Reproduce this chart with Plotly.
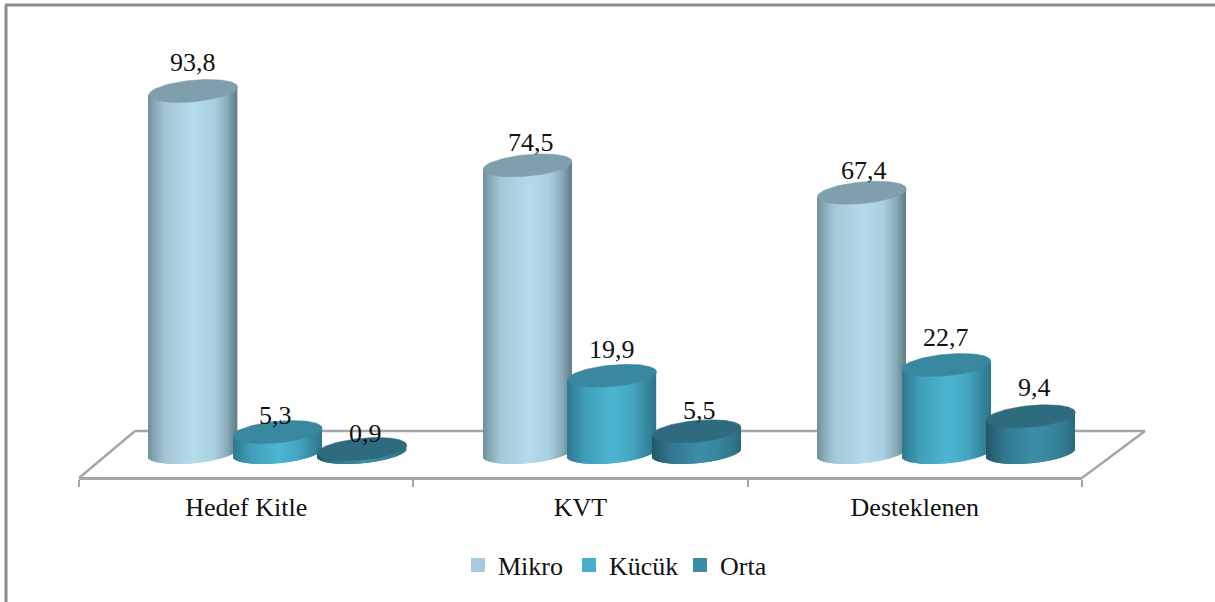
import numpy as np
import plotly.graph_objects as go

# --- data ---
categories = ["Hedef Kitle", "KVT", "Desteklenen"]
series_names = ["Mikro", "Kücük", "Orta"]
mikro = [93.8, 74.5, 67.4]
kucuk = [5.3, 19.9, 22.7]
orta = [0.9, 5.5, 9.4]
all_values = [mikro, kucuk, orta]

# --- page / scale setup (pixels of the 1215x602 page) ---
W, H = 1215, 602
X0, X1 = 79, 1082          # front edge of the floor
BASE_PY = 452.5            # pixel row of value 0 (centre of the cylinder foot)
PX_PER_UNIT = 3.854
CAT_PX = (X1 - X0) / 3
DEPTH_PX = 31.5            # cylinders sit behind the front edge, shifted right
SPACING_PX = 84.5
RADIUS_PX = 44.5
ELL_B = 10.8               # ellipse half height
ELL_TILT = 4.0             # ellipse shear, right side goes up

legend_colors = ["#a5cbdc", "#4aaccb", "#3b8ba6"]
top_colors = ["#7f9fac", "#3a87a0", "#2e6b7e"]
# side gradients, left to right
stops = [0, 0.08, 0.2, 0.52, 0.75, 0.9, 1]
side_colors = [
    [(110, 140, 152), (135, 170, 183), (165, 200, 214), (181, 220, 236), (170, 208, 224), (135, 170, 183), (95, 125, 137)],
    [(44, 120, 142), (52, 134, 158), (64, 158, 184), (76, 182, 210), (68, 165, 192), (54, 136, 160), (46, 118, 140)],
    [(34, 84, 102), (40, 98, 118), (50, 118, 140), (60, 142, 168), (56, 134, 158), (50, 120, 142), (42, 105, 125)],
]

# label offsets from the cylinder top, pixels (dx, dy up)
label_dx = [[0, 3, 2], [-2, 0, 0], [3, 3, 4]]
label_dy = [[28, 23, 22], [17, 26, 28], [16, 21, 29]]


def cyl_x(cat, ser, u):
    return cat + 0.5 + (DEPTH_PX + (ser - 1) * SPACING_PX + u * RADIUS_PX) / CAT_PX


def gradient(ser, u):
    pos = (u + 1) / 2
    rgb = [np.interp(pos, stops, [c[k] for c in side_colors[ser]]) for k in range(3)]
    return "rgb(%d,%d,%d)" % tuple(rgb)


def paper_line(x0, y0, x1, y1, color, width):
    return dict(type="line", xref="paper", yref="paper", layer="below",
                x0=x0, y0=y0, x1=x1, y1=y1, line=dict(color=color, width=width))


fig = go.Figure()

# cylinder sides: one thin bar per pixel column, so the gradient goes through the axes
us = np.linspace(-1, 1, 90)[1:-1]
for cat in range(3):
    for ser in range(3):
        value = all_values[ser][cat]
        low = (ELL_TILT * us - ELL_B * np.sqrt(1 - us ** 2)) / PX_PER_UNIT
        top = value + ELL_TILT * us / PX_PER_UNIT
        fig.add_trace(go.Bar(
            x=[cyl_x(cat, ser, u) for u in us],
            y=top - low,
            base=low,
            width=1.4 / CAT_PX,
            marker=dict(color=[gradient(ser, u) for u in us], line=dict(width=0)),
            showlegend=False,
            hoverinfo="skip",
        ))

# cylinder tops
ts = np.linspace(0, 2 * np.pi, 90)
for cat in range(3):
    for ser in range(3):
        value = all_values[ser][cat]
        fig.add_trace(go.Scatter(
            x=[cyl_x(cat, ser, np.cos(t)) for t in ts],
            y=value + (ELL_TILT * np.cos(ts) + ELL_B * np.sin(ts)) / PX_PER_UNIT,
            mode="lines",
            fill="toself",
            fillcolor=top_colors[ser],
            line=dict(color=top_colors[ser], width=0.5),
            showlegend=False,
            hoverinfo="skip",
        ))

# legend entries
for ser in range(3):
    fig.add_trace(go.Scatter(
        x=[None], y=[None], mode="markers", name=series_names[ser],
        marker=dict(symbol="square", size=14, color=legend_colors[ser]),
    ))

# value labels
for cat in range(3):
    for ser in range(3):
        value = all_values[ser][cat]
        fig.add_annotation(
            x=cyl_x(cat, ser, 0), y=value, xref="x", yref="y",
            text=("%.1f" % value).replace(".", ","),
            showarrow=False, xshift=label_dx[ser][cat], yshift=label_dy[ser][cat],
            font=dict(size=26, color="#111111"),
        )

# floor and outer frame
floor_color = "#a6a6a6"
back_py, front_py = 431, 478
shapes = [
    paper_line(135 / W, 1 - back_py / H, 1145 / W, 1 - back_py / H, floor_color, 2.5),
    paper_line(135 / W, 1 - back_py / H, X0 / W, 1 - front_py / H, floor_color, 2.5),
    paper_line(1145 / W, 1 - back_py / H, X1 / W, 1 - front_py / H, floor_color, 2.5),
    paper_line(6 / W, 0, 6 / W, 1 - 5 / H, "#8c8c8c", 3),
    paper_line(5 / W, 1 - 5 / H, 1, 1 - 5 / H, "#8c8c8c", 3),
]

fig.update_layout(
    width=W, height=H,
    margin=dict(l=0, r=0, t=0, b=0),
    paper_bgcolor="white", plot_bgcolor="white",
    barmode="overlay",
    font=dict(family="Liberation Serif", size=26, color="#111111"),
    shapes=shapes,
    legend=dict(orientation="h", x=458 / W, y=1 - 565 / H, xanchor="left", yanchor="middle",
                entrywidth=66, entrywidthmode="pixels",
                font=dict(size=26), bgcolor="rgba(0,0,0,0)"),
    xaxis=dict(
        domain=[X0 / W, X1 / W], range=[0, 3],
        anchor="free", position=1 - front_py / H,
        showgrid=False, zeroline=False,
        showline=True, linecolor=floor_color, linewidth=2.5,
        tickmode="array", tickvals=[0.5, 1.5, 2.5], ticktext=categories,
        ticks="", ticklabelstandoff=5,
        tickfont=dict(size=26, color="#111111"),
        minor=dict(tickmode="array", tickvals=[0, 1, 2, 3], ticks="outside", ticklen=7,
                   tickwidth=2, tickcolor=floor_color, showgrid=False),
    ),
    yaxis=dict(
        range=[(BASE_PY - H) / PX_PER_UNIT, BASE_PY / PX_PER_UNIT],
        visible=False,
    ),
)

# the page's default body margin would push the figure 8px off
fig.write_html("out.html", config={"displayModeBar": False},
               post_script="document.body.style.margin='0';")
